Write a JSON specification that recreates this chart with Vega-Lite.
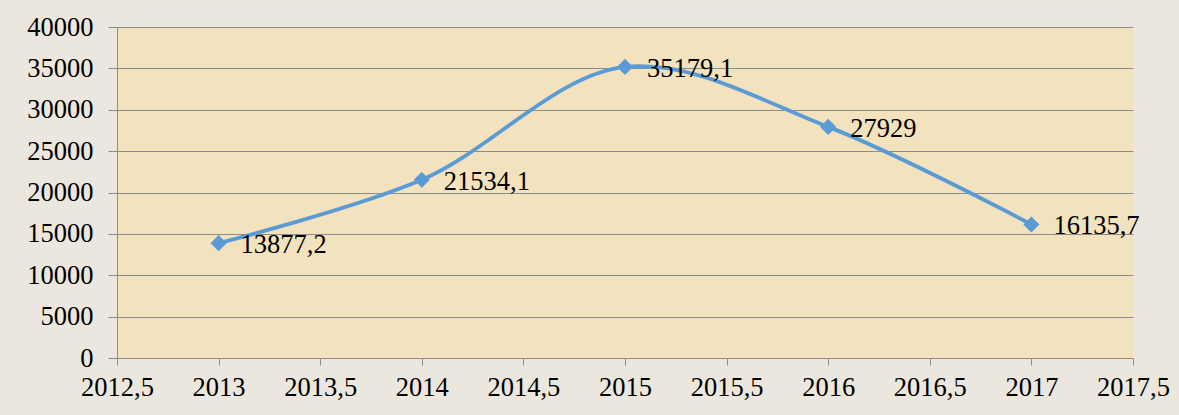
{
  "$schema": "https://vega.github.io/schema/vega-lite/v6.json",
  "width": 1016,
  "height": 331,
  "autosize": {"type": "none"},
  "padding": {"left": 117, "top": 27, "right": 46, "bottom": 57},
  "background": "#ece7de",
  "config": {
    "view": {"stroke": null, "fill": "#f2e2bd"},
    "locale": {"number": {"decimal": ",", "thousands": "", "grouping": [3], "currency": ["", ""]}},
    "font": "Liberation Serif",
    "axis": {
      "labelFont": "Liberation Serif",
      "labelFontSize": 26.5,
      "labelColor": "#000000",
      "domainColor": "#8c8c8c",
      "tickColor": "#8c8c8c",
      "gridColor": "#8c8c8c",
      "title": null
    }
  },
  "data": {
    "values": [
      {"year": 2013, "value": 13877.2},
      {"year": 2014, "value": 21534.1},
      {"year": 2015, "value": 35179.1},
      {"year": 2016, "value": 27929},
      {"year": 2017, "value": 16135.7}
    ]
  },
  "encoding": {
    "x": {
      "field": "year",
      "type": "quantitative",
      "scale": {"domain": [2012.5, 2017.5], "nice": false, "zero": false},
      "axis": {
        "values": [2012.5, 2013, 2013.5, 2014, 2014.5, 2015, 2015.5, 2016, 2016.5, 2017, 2017.5],
        "format": ".1~f",
        "grid": false,
        "tickSize": 7,
        "labelPadding": 9,
        "labelFlush": false,
        "labelOverlap": false
      }
    },
    "y": {
      "field": "value",
      "type": "quantitative",
      "scale": {"domain": [0, 40000], "nice": false},
      "axis": {
        "values": [0, 5000, 10000, 15000, 20000, 25000, 30000, 35000, 40000],
        "format": "d",
        "grid": true,
        "tickSize": 9,
        "labelPadding": 15,
        "labelFlush": false,
        "labelOverlap": false
      }
    }
  },
  "layer": [
    {
      "mark": {"type": "line", "interpolate": "catmull-rom", "color": "#5b9bd5", "strokeWidth": 3.8}
    },
    {
      "mark": {"type": "point", "shape": "diamond", "filled": true, "size": 260, "color": "#5b9bd5", "opacity": 1}
    },
    {
      "mark": {"type": "text", "align": "left", "baseline": "middle", "dx": 22, "dy": 2, "fontSize": 26.5, "color": "#000000", "font": "Liberation Serif"},
      "encoding": {"text": {"field": "value", "type": "quantitative", "format": ".1~f"}}
    }
  ]
}
